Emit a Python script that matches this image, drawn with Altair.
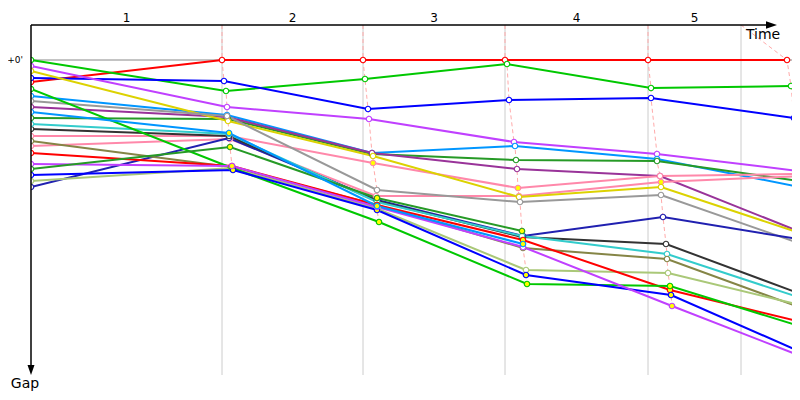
import altair as alt
import pandas as pd

# ---------------- data ----------------
CARS = ["Red A", "Green A", "Blue A", "Violet A", "Sky A", "Forest A", "Purple",
        "Pink A", "Pink B", "Yellow", "Gray", "Navy", "Black", "Cyan", "Olive",
        "Light olive", "Red B", "Green B", "Blue B", "Violet B", "Forest B", "Sky B"]
COLORS = ["#ff0000", "#00c800", "#0000ff", "#c040ff", "#0096ff", "#269a26", "#993399",
          "#ff88aa", "#ff88aa", "#dcd200", "#999999", "#2020b0", "#333333", "#33cccc", "#858546",
          "#aac878", "#ff0000", "#00c800", "#0000ff", "#c040ff", "#269a26", "#0096ff"]
# time at each lap boundary (start, lap1..lap5)
TIMES = [
    [0, 191, 332, 474, 617, 756],
    [0, 195, 334, 476, 620, 760],
    [0, 193, 337, 478, 620, 763],
    [0, 196, 338, 483, 626, 768],
    [0, 196, 341, 484, 626, 769],
    [0, 197, 341, 485, 626, 768],
    [0, 196, 341, 486, 629, 772],
    [0, 198, 342, 487, 629, 769],
    [0, 199, 345, 488, 630, 770],
    [0, 197, 342, 488, 630, 772],
    [0, 196, 346, 489, 630, 773],
    [0, 198, 346, 492, 632, 773],
    [0, 198, 346, 491, 635, 775],
    [0, 198, 346, 491, 636, 776],
    [0, 200, 346, 492, 636, 776],
    [0, 201, 347, 495, 637, 777],
    [0, 201, 346, 492, 639, 778],
    [0, 201, 348, 496, 639, 778],
    [0, 202, 346, 495, 640, 779],
    [0, 201, 346, 492, 641, 780],
    [0, 199, 346, 491],
    [0, 198, 346, 492],
]
# gap to the leader at each lap boundary
GAPS = [
    [22, 0, 0, 0, 0, 0],
    [0, 31, 19, 4, 28, 26],
    [18, 21, 49, 40, 38, 58],
    [6, 47, 59, 82, 94, 111],
    [36, 55, 93, 86, 99, 127],
    [58, 59, 94, 100, 101, 121],
    [47, 57, 93, 109, 116, 173],
    [76, 76, 103, 128, 116, 114],
    [86, 79, 136, 136, 122, 116],
    [11, 61, 96, 137, 127, 174],
    [41, 56, 130, 142, 135, 185],
    [127, 78, 140, 176, 157, 180],
    [69, 76, 141, 177, 184, 236],
    [64, 74, 142, 176, 194, 240],
    [81, 107, 145, 188, 199, 250],
    [121, 108, 149, 210, 213, 247],
    [93, 106, 145, 180, 230, 264],
    [29, 108, 162, 224, 226, 269],
    [115, 110, 150, 215, 235, 296],
    [104, 106, 147, 187, 246, 300],
    [109, 87, 138, 171],
    [52, 73, 146, 184],
]
# (car, lap) points flagged (drawn with yellow fill)
FLAGGED = [("Sky B", 1), ("Forest B", 1), ("Violet B", 1), ("Blue B", 1),
           ("Pink A", 2), ("Forest B", 2), ("Sky B", 2), ("Red B", 2), ("Blue B", 2), ("Green B", 2),
           ("Pink A", 3), ("Forest B", 3), ("Sky B", 3), ("Red B", 3), ("Blue B", 3), ("Green B", 3),
           ("Pink B", 4), ("Green B", 4), ("Red B", 4), ("Blue B", 4), ("Violet B", 4)]
LAP_LABELS = ["1", "2", "3", "4", "5"]
GRID_TIMES = [191, 332, 474, 617, 710]
TIME_DOMAIN = [0, 761]
GAP_DOMAIN = [-35, 315]

# ---------------- tables ----------------
rows = []
for car, ts, gs in zip(CARS, TIMES, GAPS):
    for lap, (t, g) in enumerate(zip(ts, gs)):
        rows.append({"car": car, "lap": lap, "time": t, "gap": g,
                     "fillc": "#ffff00" if (car, lap) in FLAGGED else "#ffffff"})
pts = pd.DataFrame(rows)

dash_rows = []
for i, gt in enumerate(GRID_TIMES):
    lap = i + 1
    dash_rows.append({"lap": lap, "time": gt, "gap": GAP_DOMAIN[0]})
    sub = pts[pts.lap == lap]
    for _, r in sub.iterrows():
        dash_rows.append({"lap": lap, "time": r.time, "gap": r.gap})
dash = pd.DataFrame(dash_rows)

bounds = [0] + GRID_TIMES
labels = pd.DataFrame({"label": LAP_LABELS,
                       "time": [(a + b) / 2 for a, b in zip(bounds[:-1], bounds[1:])],
                       "gap": [GAP_DOMAIN[0] - 7] * len(LAP_LABELS)})

grid = pd.DataFrame({"time": GRID_TIMES, "g0": [GAP_DOMAIN[0]] * 5, "g1": [GAP_DOMAIN[1]] * 5})

X = alt.Scale(domain=TIME_DOMAIN, nice=False, zero=False)
Y = alt.Scale(domain=GAP_DOMAIN, reverse=True, nice=False, zero=False)
C = alt.Scale(domain=CARS, range=COLORS)

def x(f="time"):
    return alt.X(f"{f}:Q", scale=X, axis=None)

def y(f="gap"):
    return alt.Y(f"{f}:Q", scale=Y, axis=None)

gridlines = alt.Chart(grid).mark_rule(color="#cccccc", strokeWidth=1).encode(
    x=x(), y=y("g0"), y2="g1")

zero_line = alt.Chart(pd.DataFrame({"t0": [TIME_DOMAIN[0]], "t1": [TIME_DOMAIN[1]], "gap": [0]})).mark_rule(
    color="#888888", strokeWidth=1).encode(x=x("t0"), x2="t1", y=y())

dashed = alt.Chart(dash).mark_line(color="#ffaaaa", strokeWidth=1, strokeDash=[4, 3], clip=True).encode(
    x=x(), y=y(), detail="lap:N", order="gap:Q")

lines = alt.Chart(pts).mark_line(strokeWidth=2, clip=True).encode(
    x=x(), y=y(), color=alt.Color("car:N", scale=C, legend=None), detail="car:N", order="lap:Q")

markers = alt.Chart(pts).mark_circle(size=30, strokeWidth=1.2, opacity=1, clip=True).encode(
    x=x(), y=y(),
    stroke=alt.Stroke("car:N", scale=C, legend=None),
    fill=alt.Fill("fillc:N", scale=None))

# axes drawn as marks
left_axis = alt.Chart(pd.DataFrame({"time": [0], "g0": [GAP_DOMAIN[0]], "g1": [GAP_DOMAIN[1] - 9]})).mark_rule(
    color="black", strokeWidth=1.5).encode(x=x(), y=y("g0"), y2="g1")
top_axis = alt.Chart(pd.DataFrame({"t0": [0], "t1": [740], "gap": [GAP_DOMAIN[0]]})).mark_rule(
    color="black", strokeWidth=1.5).encode(x=x("t0"), x2="t1", y=y())
arrow_right = alt.Chart(pd.DataFrame({"time": [740.5], "gap": [GAP_DOMAIN[0]]})).mark_point(
    shape="M-1,-0.7L1,0L-1,0.7Z", size=121, filled=True, color="black", opacity=1).encode(x=x(), y=y())
arrow_down = alt.Chart(pd.DataFrame({"time": [0], "gap": [GAP_DOMAIN[1] - 5]})).mark_point(
    shape="M-0.7,-1L0.7,-1L0,1Z", size=100, filled=True, color="black", opacity=1).encode(x=x(), y=y())

lap_text = alt.Chart(labels).mark_text(font="DejaVu Sans", fontSize=12, color="black",
                                       baseline="middle", align="center").encode(
    x=x(), y=y(), text="label:N")
time_text = alt.Chart(pd.DataFrame({"time": [732], "gap": [-25], "t": ["Time"]})).mark_text(
    font="DejaVu Sans", fontSize=14, color="black", baseline="middle", align="center").encode(
    x=x(), y=y(), text="t:N")
gap_text = alt.Chart(pd.DataFrame({"time": [-6], "gap": [324], "t": ["Gap"]})).mark_text(
    font="DejaVu Sans", fontSize=14, color="black", baseline="middle", align="center").encode(
    x=x(), y=y(), text="t:N")
zero_text = alt.Chart(pd.DataFrame({"time": [-8], "gap": [0], "t": ["+0'"]})).mark_text(
    font="DejaVu Sans", fontSize=9, color="black", baseline="middle", align="right").encode(
    x=x(), y=y(), text="t:N")

chart = alt.layer(
    gridlines, zero_line, dashed, lines, markers,
    left_axis, top_axis, arrow_right, arrow_down,
    lap_text, time_text, gap_text, zero_text
).properties(
    width=761, height=350,
    autosize=alt.AutoSizeParams(type="none"),
    padding={"left": 23, "top": 17, "right": 0, "bottom": 17},
    background="white",
).configure_view(stroke=None)

chart.save("out.html", embed_options={"renderer": "svg", "actions": False})
